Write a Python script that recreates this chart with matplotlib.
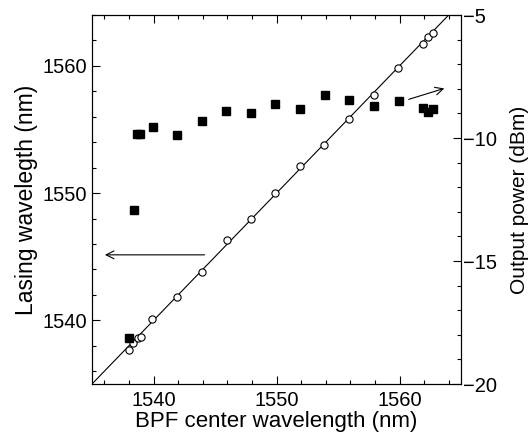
import matplotlib
matplotlib.use("Agg")
import matplotlib.pyplot as plt
from matplotlib.ticker import MultipleLocator

plt.rcParams['font.family'] = ['Liberation Sans', 'DejaVu Sans']

# Lasing wavelength vs BPF center wavelength (open circles)
bpf_lasing = [1538.0, 1538.35, 1538.75, 1538.97, 1539.9, 1541.95, 1543.95, 1545.95,
              1547.9, 1549.9, 1551.9, 1553.9, 1555.9, 1557.9, 1559.9, 1561.9, 1562.3, 1562.7]
lasing_wl = [1537.7, 1538.2, 1538.6, 1538.7, 1540.1, 1541.8, 1543.8, 1546.35,
             1548.0, 1550.0, 1552.1, 1553.8, 1555.8, 1557.7, 1559.8, 1561.7, 1562.3, 1562.6]

# Output power vs BPF center wavelength (filled squares)
bpf_power = [1538.0, 1538.38, 1538.67, 1538.94, 1539.94, 1541.94, 1543.96, 1545.93,
             1547.93, 1549.9, 1551.92, 1553.95, 1555.89, 1557.91, 1559.94, 1561.88, 1562.29, 1562.7]
power_dbm = [-18.12, -12.93, -9.84, -9.84, -9.55, -9.88, -9.31, -8.89,
             -8.97, -8.62, -8.83, -8.24, -8.44, -8.70, -8.48, -8.77, -8.93, -8.83]

# reference line y = x
ref_line = [1535, 1565]

fig = plt.figure(figsize=(5.28, 4.36), dpi=100)
ax = fig.add_axes([92/528, 52/436, (461-92)/528, (384-15)/436])
ax2 = ax.twinx()

ax.plot(ref_line, ref_line, color='black', lw=0.8, zorder=2)
ax.plot(bpf_lasing, lasing_wl, linestyle='none', marker='o', ms=5.2,
        mfc='white', mec='black', mew=0.8, zorder=3)
ax2.plot(bpf_power, power_dbm, linestyle='none', marker='s', ms=5.2,
         mfc='black', mec='black', zorder=3)

ax.set_xlim(1535, 1565)
ax.set_ylim(1535, 1564)
ax2.set_ylim(-20, -5)

ax.xaxis.set_major_locator(MultipleLocator(10))
ax.xaxis.set_minor_locator(MultipleLocator(2))
ax.yaxis.set_major_locator(MultipleLocator(10))
ax.yaxis.set_minor_locator(MultipleLocator(2))
ax2.yaxis.set_major_locator(MultipleLocator(5))
ax2.yaxis.set_minor_locator(MultipleLocator(1))

tfs = 14.5
ax.tick_params(axis='x', which='both', direction='in', top=True, bottom=True,
               labelsize=tfs, pad=5)
ax.tick_params(axis='y', which='both', direction='in', left=True, right=False,
               labelsize=tfs, pad=3.5)
ax2.tick_params(axis='y', which='both', direction='in', right=True,
                labelsize=tfs, pad=1.5)
for a in (ax, ax2):
    a.tick_params(which='major', length=5.5, width=0.8)
    a.tick_params(which='minor', length=3, width=0.8)
    for s in a.spines.values():
        s.set_linewidth(0.8)

ax.set_xlabel('BPF center wavelength (nm)', fontsize=16, labelpad=1)
ax.set_ylabel('Lasing wavelegth (nm)', fontsize=16.5, labelpad=3)
ax2.set_ylabel('Output power (dBm)', fontsize=15, labelpad=9)

ax.annotate('', xy=(1536.05, 1545.15), xytext=(1544.15, 1545.15),
            arrowprops=dict(arrowstyle='->', color='black', lw=0.8,
                            mutation_scale=14, shrinkA=0, shrinkB=0))
ax.annotate('', xy=(1563.64, 1558.23), xytext=(1560.75, 1557.37),
            arrowprops=dict(arrowstyle='->', color='black', lw=0.8,
                            mutation_scale=14, shrinkA=0, shrinkB=0))

fig.savefig('out.png', dpi=100)
